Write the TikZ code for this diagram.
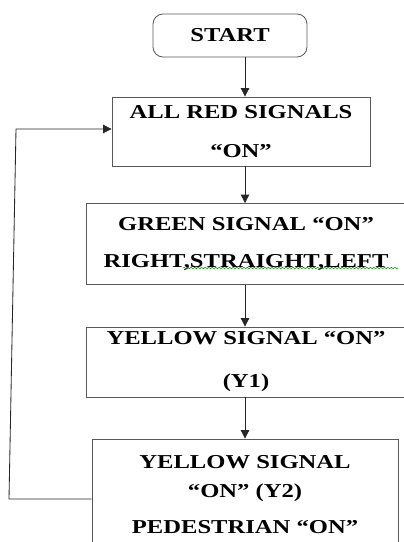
\documentclass[tikz,border=0pt]{standalone}
\usepackage{fontspec}
\setmainfont{Liberation Serif}[FakeStretch=1.25]
\usetikzlibrary{calc}
\usetikzlibrary{positioning}
\usetikzlibrary{arrows.meta}
\usetikzlibrary{decorations.pathmorphing}

\begin{document}
\begin{tikzpicture}[
    stepbox/.style={rectangle, draw=black!65, line width=0.6pt, align=center, font=\fontsize{14}{17}\selectfont\bfseries},
    flow/.style={draw=black!85, line width=0.6pt, -{Triangle[length=6pt, width=6pt]}}
]
    \useasboundingbox (0, 0) rectangle (10.075, 13.55);
    % Signal cycle
    % - [Boxes]
    \node at (5.75, 12.6625) [stepbox, rounded corners=0.25cm, minimum width=3.85cm, minimum height=1.075cm](start){START};
    \node at (6.025, 10.2625) [stepbox, minimum width=6.45cm, minimum height=1.725cm](allred){ALL RED SIGNALS\\[10.7pt]“ON”};
    \node at (6.15, 7.45) [stepbox, minimum width=8cm, minimum height=2.025cm](green){GREEN SIGNAL “ON”\\[10pt]RIGHT,STRAIGHT,LEFT};
    \node at (6.15, 4.5) [stepbox, minimum width=8cm, minimum height=1.75cm](yellowA){YELLOW SIGNAL “ON”\\[13.6pt](Y1)};
    \node at (6.125, 1.1875) [stepbox, minimum width=7.65cm, minimum height=2.775cm](yellowB){YELLOW SIGNAL\\[3.6pt]“ON” (Y2)\\[8.6pt]PEDESTRIAN “ON”};
    % -- spell check line under the second green line
    \draw [green!60!black, line width=0.4pt, decorate, decoration={snake, amplitude=0.5pt, segment length=2.5pt}] (4.575, 6.85) -- (9.95, 6.85) ;

    % - [Arrows down the middle]
    \coordinate (mid) at (6.125, 0);
    \draw [flow] (start.south -| mid) -- (allred.north -| mid) ;
    \draw [flow] (allred.south -| mid) -- (green.north -| mid) ;
    \draw [flow] (green.south -| mid) -- (yellowA.north -| mid) ;
    \draw [flow] (yellowA.south -| mid) -- (yellowB.north -| mid) ;

    % - [Back to all red]
    \coordinate (loopB) at (0.225, 1.075);
    \coordinate (loopT) at (0.4, 10.325);
    \draw [flow] (yellowB.west |- loopB) -- (loopB) -- (loopT) -- (allred.west |- loopT) ;

\end{tikzpicture}
\end{document}
